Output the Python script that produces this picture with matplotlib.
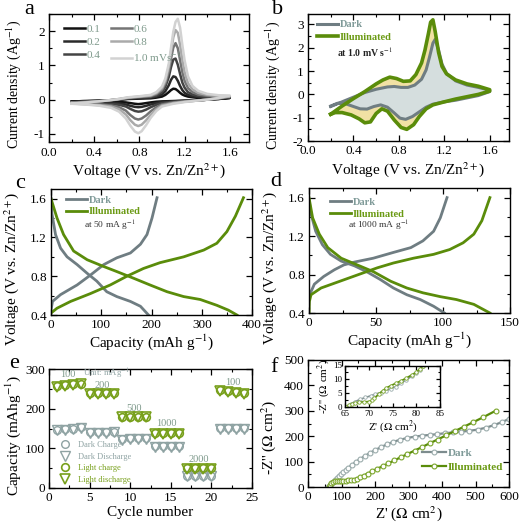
import matplotlib
matplotlib.use('Agg')
import matplotlib.pyplot as plt
from matplotlib.ticker import MultipleLocator

plt.rcParams['font.family'] = ['Liberation Serif', 'DejaVu Serif']
plt.rcParams['mathtext.fontset'] = 'stix'
plt.rcParams['axes.unicode_minus'] = False
plt.rcParams['axes.linewidth'] = 1.0

# ---------------- data ----------------
# (a) CV at different scan rates
scan_rates = ['0.1', '0.2', '0.4', '0.6', '0.8', '1.0 mVs$^{-1}$']
va_fwd = [0.20, 0.30, 0.40, 0.50, 0.60, 0.70, 0.80, 0.90, 0.95, 1.00, 1.03, 1.06, 1.08,
          1.10, 1.12, 1.14, 1.16, 1.18, 1.20, 1.23, 1.27, 1.32, 1.40, 1.50, 1.60]
ia_fwd = [
    [-0.06, -0.04, -0.03, -0.02, -0.01, 0.02, 0.03, 0.04, 0.06, 0.09, 0.14, 0.22, 0.28,
     0.32, 0.31, 0.26, 0.20, 0.15, 0.12, 0.09, 0.07, 0.05, 0.04, 0.04, 0.05],
    [-0.07, -0.05, -0.04, -0.03, -0.01, 0.03, 0.05, 0.06, 0.09, 0.15, 0.25, 0.42, 0.58,
     0.68, 0.66, 0.55, 0.40, 0.28, 0.20, 0.14, 0.10, 0.08, 0.06, 0.05, 0.06],
    [-0.08, -0.06, -0.05, -0.03, 0.00, 0.04, 0.06, 0.08, 0.12, 0.22, 0.38, 0.66, 0.95,
     1.17, 1.20, 1.02, 0.75, 0.50, 0.35, 0.22, 0.15, 0.11, 0.08, 0.07, 0.07],
    [-0.09, -0.07, -0.05, -0.03, 0.00, 0.05, 0.08, 0.10, 0.16, 0.28, 0.48, 0.82, 1.20,
     1.52, 1.65, 1.50, 1.15, 0.80, 0.55, 0.34, 0.22, 0.15, 0.11, 0.09, 0.09],
    [-0.10, -0.08, -0.06, -0.03, 0.01, 0.06, 0.09, 0.12, 0.19, 0.33, 0.55, 0.95, 1.40,
     1.82, 2.03, 1.95, 1.60, 1.15, 0.80, 0.48, 0.30, 0.20, 0.14, 0.11, 0.10],
    [-0.12, -0.09, -0.06, -0.03, 0.01, 0.07, 0.10, 0.14, 0.22, 0.38, 0.62, 1.05, 1.52,
     1.98, 2.27, 2.36, 2.10, 1.60, 1.15, 0.68, 0.40, 0.26, 0.17, 0.13, 0.12],
]
va_rev = [1.60, 1.50, 1.40, 1.30, 1.20, 1.10, 1.00, 0.95, 0.90, 0.86, 0.82, 0.79, 0.76,
          0.72, 0.68, 0.62, 0.55, 0.45, 0.35, 0.25, 0.20]
ia_rev = [
    [0.05, 0.02, 0.00, -0.02, -0.03, -0.04, -0.05, -0.06, -0.08, -0.10, -0.12, -0.13, -0.12,
     -0.10, -0.08, -0.07, -0.07, -0.07, -0.07, -0.07, -0.06],
    [0.06, 0.02, 0.00, -0.02, -0.03, -0.05, -0.07, -0.10, -0.14, -0.18, -0.21, -0.22, -0.21,
     -0.18, -0.14, -0.11, -0.10, -0.09, -0.09, -0.08, -0.07],
    [0.07, 0.03, 0.00, -0.02, -0.04, -0.06, -0.10, -0.15, -0.22, -0.29, -0.34, -0.35, -0.33,
     -0.27, -0.20, -0.15, -0.13, -0.11, -0.10, -0.09, -0.08],
    [0.09, 0.04, 0.00, -0.03, -0.05, -0.08, -0.14, -0.22, -0.34, -0.46, -0.55, -0.58, -0.55,
     -0.45, -0.32, -0.22, -0.17, -0.14, -0.12, -0.11, -0.09],
    [0.10, 0.04, 0.00, -0.03, -0.06, -0.10, -0.17, -0.28, -0.44, -0.60, -0.73, -0.77, -0.73,
     -0.60, -0.43, -0.28, -0.20, -0.16, -0.14, -0.12, -0.10],
    [0.12, 0.05, 0.00, -0.03, -0.07, -0.12, -0.20, -0.33, -0.53, -0.74, -0.92, -0.98, -0.93,
     -0.76, -0.55, -0.35, -0.24, -0.18, -0.15, -0.13, -0.12],
]
cv_colors = ['#111111', '#2a2a2a', '#444444', '#757575', '#aaaaaa', '#d2d2d2']

# (b) CV dark vs illuminated at 1.0 mV/s (closed loops)
vb_dark = [0.20, 0.30, 0.40, 0.50, 0.60, 0.70, 0.76, 0.82, 0.88, 0.94, 1.00, 1.04, 1.07, 1.10,
           1.12, 1.15, 1.18, 1.22, 1.30, 1.40, 1.50, 1.60,
           1.60, 1.50, 1.40, 1.30, 1.20, 1.10, 1.04, 0.98, 0.92, 0.86, 0.81, 0.76, 0.70,
           0.64, 0.58, 0.52, 0.46, 0.40, 0.33, 0.26, 0.20]
ib_dark = [-0.52, -0.32, -0.12, 0.08, 0.22, 0.32, 0.34, 0.30, 0.30, 0.40, 0.65, 1.05, 1.60, 2.20,
           2.36, 1.90, 1.30, 0.90, 0.58, 0.40, 0.30, 0.18,
           0.12, -0.05, -0.15, -0.25, -0.32, -0.42, -0.55, -0.75, -0.95, -1.07, -1.02, -0.80, -0.55,
           -0.45, -0.52, -0.63, -0.62, -0.52, -0.40, -0.38, -0.50]
vb_ill = [0.20, 0.30, 0.40, 0.50, 0.60, 0.66, 0.72, 0.78, 0.84, 0.90, 0.95, 1.00, 1.03, 1.06,
          1.08, 1.10, 1.12, 1.15, 1.18, 1.22, 1.30, 1.40, 1.50, 1.60,
          1.60, 1.50, 1.40, 1.30, 1.20, 1.10, 1.04, 0.98, 0.93, 0.87, 0.82, 0.76, 0.70,
          0.65, 0.60, 0.55, 0.50, 0.45, 0.38, 0.30, 0.24, 0.20]
ib_ill = [-0.85, -0.50, -0.18, 0.12, 0.45, 0.62, 0.74, 0.68, 0.56, 0.58, 0.85, 1.35, 1.90, 2.60,
          3.10, 3.20, 2.70, 1.80, 1.20, 0.88, 0.62, 0.45, 0.35, 0.20,
          0.14, 0.00, -0.10, -0.20, -0.32, -0.45, -0.62, -0.95, -1.30, -1.50, -1.42, -1.10, -0.72,
          -0.62, -0.82, -1.18, -1.22, -1.05, -0.88, -0.78, -0.78, -0.85]

# (c) charge/discharge at 50 mA/g
c_dark_ch_cap = [0, 3, 19, 52, 78, 105, 131, 158, 178, 191, 201, 211]
c_dark_ch_v = [0.45, 0.54, 0.61, 0.71, 0.81, 0.92, 0.99, 1.04, 1.13, 1.23, 1.40, 1.61]
c_dark_dis_cap = [0, 2, 9, 19, 32, 52, 72, 91, 111, 131, 158, 178, 194]
c_dark_dis_v = [1.60, 1.44, 1.23, 1.09, 1.00, 0.92, 0.83, 0.75, 0.64, 0.59, 0.54, 0.49, 0.40]
c_ill_ch_cap = [0, 12, 39, 78, 118, 151, 184, 217, 264, 304, 330, 350, 367, 383]
c_ill_ch_v = [0.42, 0.47, 0.54, 0.62, 0.71, 0.80, 0.88, 0.94, 1.00, 1.07, 1.14, 1.26, 1.42, 1.61]
c_ill_dis_cap = [0, 12, 25, 45, 72, 105, 130, 164, 197, 231, 264, 297, 330, 353, 370]
c_ill_dis_v = [1.60, 1.40, 1.23, 1.06, 0.97, 0.90, 0.85, 0.78, 0.71, 0.64, 0.59, 0.56, 0.50, 0.45, 0.40]

# (d) charge/discharge at 1000 mA/g
d_dark_ch_cap = [0, 0.5, 4, 11, 19, 26, 34, 48, 63, 76, 85, 93, 98, 103]
d_dark_ch_v = [0.55, 0.59, 0.70, 0.78, 0.85, 0.90, 0.93, 0.97, 1.03, 1.08, 1.15, 1.25, 1.39, 1.60]
d_dark_dis_cap = [0, 1.5, 5, 10, 16, 24, 34, 43, 53, 63, 73, 83, 93, 101]
d_dark_dis_v = [1.58, 1.43, 1.25, 1.11, 1.01, 0.94, 0.89, 0.83, 0.75, 0.66, 0.59, 0.54, 0.47, 0.40]
d_ill_ch_cap = [0, 0.3, 1.5, 9, 19, 31, 41, 51, 63, 78, 93, 105, 115, 123, 129, 135]
d_ill_ch_v = [0.40, 0.52, 0.59, 0.66, 0.71, 0.77, 0.82, 0.87, 0.92, 0.97, 1.01, 1.06, 1.13, 1.22, 1.36, 1.60]
d_ill_dis_cap = [0, 2.7, 7.7, 14, 24, 36, 48, 61, 73, 85, 98, 110, 123, 135]
d_ill_dis_v = [1.60, 1.39, 1.22, 1.08, 0.97, 0.90, 0.83, 0.73, 0.66, 0.61, 0.57, 0.54, 0.49, 0.40]

# (e) rate performance
cycles = list(range(1, 25))
dark_charge = [147, 149, 150, 153, 140, 141, 141, 142, 124, 125, 125, 126,
               106, 106, 106, 106, 31, 31, 31, 31, 152, 152, 151, 151]
dark_discharge = [145, 147, 148, 151, 138, 139, 139, 140, 122, 123, 123, 124,
                  104, 104, 104, 104, 29, 29, 29, 29, 150, 150, 149, 149]
light_charge = [256, 259, 261, 263, 240, 240, 240, 240, 180, 180, 180, 180,
                138, 138, 138, 138, 51, 51, 51, 51, 247, 245, 242, 239]
light_discharge = [254, 257, 259, 261, 238, 238, 238, 238, 178, 178, 178, 178,
                   136, 136, 136, 136, 48, 48, 48, 48, 244, 242, 239, 236]
rate_labels = ['100', '200', '500', '1000', '2000', '100']
rate_label_x = [2.3, 6.5, 10.5, 14.5, 18.5, 22.6]
rate_label_y = [285, 259, 200, 162, 72, 265]

# (f) Nyquist
z_dark = [60, 65, 70, 75, 80, 86, 92, 98, 105, 112, 120, 130, 142, 155, 170, 185, 200, 218,
          236, 255, 275, 296, 318, 340, 363, 386, 410, 434, 458, 482, 506, 530, 554, 578, 600]
zz_dark = [0, 6, 12, 19, 26, 34, 42, 50, 58, 66, 75, 86, 98, 110, 122, 134, 145, 157,
           168, 178, 186, 193, 198, 202, 205, 208, 212, 215, 218, 221, 226, 233, 243, 255, 268]
z_ill = [62, 66, 70, 75, 80, 86, 92, 98, 105, 112, 120, 128, 136, 145, 155, 166, 178, 192, 207,
         223, 240, 258, 277, 297, 318, 340, 363, 387, 412, 438, 465, 493, 522, 560]
zz_ill = [0, 8, 15, 20, 23, 25, 25, 25, 25, 25, 26, 27, 29, 33, 38, 45, 53, 62, 72,
          82, 93, 105, 117, 130, 143, 157, 172, 187, 203, 220, 237, 255, 274, 300]
zin_dark = [65.3, 66.2, 67.1, 68.2, 69.3, 70.4, 71.4, 72.5, 73.6, 74.6, 75.7, 76.8, 77.9,
            79.0, 80.0, 80.8, 81.5]
zzin_dark = [0.0, 0.9, 1.8, 2.6, 3.3, 3.9, 4.5, 5.1, 5.7, 6.5, 7.3, 8.5, 9.8, 11.0, 12.2, 13.5, 15.0]
zin_ill = [65.3, 65.8, 66.4, 67.1, 67.9, 68.9, 70.0, 70.6, 71.2, 72.1, 72.9, 73.6, 74.6, 75.7,
           76.8, 77.9, 79.0, 80.0, 80.8, 81.5]
zzin_ill = [0.0, 0.5, 0.9, 1.2, 1.5, 1.7, 1.8, 2.2, 3.0, 4.5, 5.7, 6.7, 7.6, 8.5, 9.4, 10.4,
            11.5, 12.6, 13.8, 15.0]

DARK = '#6f7d82'
GREEN = '#5a8c0a'
DARK_TXT = '#7f9a98'
GREEN_TXT = '#6b9a14'

W, H = 520, 525
fig = plt.figure(figsize=(5.2, 5.25), dpi=100)


def ax_px(l, t, r, b):
    return fig.add_axes([l / W, 1 - b / H, (r - l) / W, (b - t) / H])


def style(ax, xmaj, xmin, ymaj, ymin, ls=9.5):
    ax.xaxis.set_major_locator(MultipleLocator(xmaj))
    ax.xaxis.set_minor_locator(MultipleLocator(xmin))
    ax.yaxis.set_major_locator(MultipleLocator(ymaj))
    ax.yaxis.set_minor_locator(MultipleLocator(ymin))
    ax.tick_params(which='both', direction='in', top=True, right=True, labelsize=ls, pad=3)
    ax.tick_params(which='major', length=4, width=0.9)
    ax.tick_params(which='minor', length=2.2, width=0.8)


LAB = 11

# ---------- a ----------
ax = ax_px(49, 14, 249, 142.5)
for k in range(len(scan_rates)):
    ax.plot(va_fwd + va_rev, ia_fwd[k] + ia_rev[k], color=cv_colors[k], lw=1.8,
            label=scan_rates[k])
ax.set_xlim(0, 1.77)
ax.set_ylim(-1.25, 2.5)
style(ax, 0.4, 0.2, 1, 0.5)
ax.set_xlabel('Voltage (V vs. Zn/Zn$^{2+}$)', fontsize=LAB, labelpad=2)
ax.set_ylabel('Current density (Ag$^{-1}$)', fontsize=10)
ax.yaxis.set_label_coords(-0.13, 0.45)
ax.legend(ncol=2, loc='upper left', bbox_to_anchor=(0.025, 1.0), frameon=False, fontsize=8,
          handlelength=1.9, handletextpad=0.15, columnspacing=0.9, labelspacing=0.3,
          labelcolor='#7f9a8c')

# ---------- b ----------
ax = ax_px(308, 14, 509, 141)
ax.fill(vb_ill, ib_ill, color='#f1e1a4', lw=0)
ax.fill(vb_dark, ib_dark, color='#d5dede', lw=0)
ax.plot(vb_dark, ib_dark, color=DARK, lw=2.2, label='Dark')
ax.plot(vb_ill, ib_ill, color=GREEN, lw=2.6, label='Illuminated')
ax.set_xlim(0, 1.77)
ax.set_ylim(-2, 3.45)
style(ax, 0.4, 0.2, 1, 0.5)
ax.set_xlabel('Voltage (V vs. Zn/Zn$^{2+}$)', fontsize=LAB, labelpad=2)
ax.set_ylabel('Current density (Ag$^{-1}$)', fontsize=10)
ax.yaxis.set_label_coords(-0.13, 0.44)
ax.legend(loc='upper left', bbox_to_anchor=(0.0, 1.025), frameon=False,
          prop={'size': 7.5, 'weight': 'bold'}, handlelength=2.0, handletextpad=0.15,
          labelspacing=0.3, labelcolor=[DARK_TXT, GREEN_TXT])
ax.text(0.145, 0.70, 'at 1.0 mV s$^{-1}$', transform=ax.transAxes, fontsize=7,
        fontweight='bold', color='#222222', va='center')

# ---------- c ----------
ax = ax_px(51, 189, 252, 315)
ax.plot(c_dark_ch_cap, c_dark_ch_v, color=DARK, lw=2.0, label='Dark')
ax.plot(c_dark_dis_cap, c_dark_dis_v, color=DARK, lw=2.0)
ax.plot(c_ill_ch_cap, c_ill_ch_v, color=GREEN, lw=2.0, label='Illuminated')
ax.plot(c_ill_dis_cap, c_ill_dis_v, color=GREEN, lw=2.0)
ax.set_xlim(0, 400)
ax.set_ylim(0.4, 1.7)
style(ax, 100, 50, 0.4, 0.2)
ax.set_xlabel('Capacity (mAh g$^{-1}$)', fontsize=LAB, labelpad=1)
ax.set_ylabel('Voltage (V vs. Zn/Zn$^{2+}$)', fontsize=LAB)
ax.yaxis.set_label_coords(-0.15, 0.37)
ax.legend(loc='upper left', bbox_to_anchor=(0.03, 1.025), frameon=False,
          prop={'size': 7.5, 'weight': 'bold'}, handlelength=2.0, handletextpad=0.15,
          labelspacing=0.25, labelcolor=[DARK_TXT, GREEN_TXT])
ax.text(0.165, 0.71, 'at 50 mA g$^{-1}$', transform=ax.transAxes, fontsize=6.8,
        color='#333333', va='center')

# ---------- d ----------
ax = ax_px(309, 188, 510, 313)
ax.plot(d_dark_ch_cap, d_dark_ch_v, color=DARK, lw=2.0, label='Dark')
ax.plot(d_dark_dis_cap, d_dark_dis_v, color=DARK, lw=2.0)
ax.plot(d_ill_ch_cap, d_ill_ch_v, color=GREEN, lw=2.0, label='Illuminated')
ax.plot(d_ill_dis_cap, d_ill_dis_v, color=GREEN, lw=2.0)
ax.set_xlim(0, 150)
ax.set_ylim(0.4, 1.7)
style(ax, 50, 25, 0.4, 0.2)
ax.set_xlabel('Capacity (mAh g$^{-1}$)', fontsize=LAB, labelpad=1)
ax.set_ylabel('Voltage (V vs. Zn/Zn$^{2+}$)', fontsize=LAB)
ax.yaxis.set_label_coords(-0.15, 0.36)
ax.legend(loc='upper left', bbox_to_anchor=(0.06, 1.0), frameon=False,
          prop={'size': 7.5, 'weight': 'bold'}, handlelength=2.0, handletextpad=0.15,
          labelspacing=0.25, labelcolor=[DARK_TXT, GREEN_TXT])
ax.text(0.195, 0.695, 'at 1000 mA g$^{-1}$', transform=ax.transAxes, fontsize=6.8,
        color='#333333', va='center')

# ---------- e ----------
ax = ax_px(49, 369, 252, 488)
EG = '#8fa3a3'
EGR = '#78a01c'
ax.plot(cycles, dark_charge, 'o', ms=5.5, mfc='none', mec=EG, mew=1.0, label='Dark Charge')
ax.plot(cycles, dark_discharge, 'v', ms=6.5, mfc='none', mec=EG, mew=1.0, label='Dark Discharge')
ax.plot(cycles, light_charge, 'o', ms=5.5, mfc='none', mec=EGR, mew=1.2, label='Light charge')
ax.plot(cycles, light_discharge, 'v', ms=6.5, mfc='none', mec=EGR, mew=1.2, label='Light discharge')
for t, x, y in zip(rate_labels, rate_label_x, rate_label_y):
    ax.text(x, y, t, fontsize=7.5, color='#7f9a8c', ha='center', va='center')
ax.text(4.2, 287, 'Unit: mAg$^{-1}$', fontsize=6.3, color='#8fa3a3', ha='left', va='center')
ax.set_xlim(0, 25)
ax.set_ylim(0, 300)
style(ax, 5, 2.5, 100, 50)
ax.set_xlabel('Cycle number', fontsize=LAB, labelpad=1)
ax.set_ylabel('Capacity (mAhg$^{-1}$)', fontsize=LAB, labelpad=2)
ax.yaxis.set_label_coords(-0.13, 0.44)
ax.legend(loc='lower left', bbox_to_anchor=(0.0, -0.03), frameon=False, fontsize=6,
          handletextpad=0.6, labelspacing=0.45, markerscale=1.0,
          labelcolor=[EG, EG, EGR, EGR])

# ---------- f ----------
ax = ax_px(308, 360, 509, 487)
ax.plot(z_dark, zz_dark, '-o', color='#7d8c8e', lw=1.6, ms=3.5, mfc='white',
        mec='#9aabab', mew=0.8, label='Dark')
ax.plot(z_ill, zz_ill, '-o', color=GREEN, lw=1.6, ms=3.5, mfc='white',
        mec='#7aa52a', mew=0.8, label='Illuminated')
ax.set_xlim(0, 600)
ax.set_ylim(0, 500)
style(ax, 100, 50, 100, 50)
ax.set_xlabel("Z' ($\\Omega$ cm$^{2}$)", fontsize=LAB, labelpad=1)
ax.set_ylabel("-Z'' ($\\Omega$ cm$^{2}$)", fontsize=LAB)
ax.yaxis.set_label_coords(-0.15, 0.39)
ax.legend(loc='lower right', bbox_to_anchor=(1.02, 0.04), frameon=False,
          prop={'size': 8, 'weight': 'bold'}, handlelength=2.2, handletextpad=0.15,
          labelspacing=0.4, labelcolor=[DARK_TXT, GREEN_TXT])

axi = ax_px(345, 365.5, 440, 406.5)
axi.plot(zin_dark, zzin_dark, '-o', color='#7d8c8e', lw=1.2, ms=2.5, mfc='white',
         mec='#9aabab', mew=0.6)
axi.plot(zin_ill, zzin_ill, '-o', color=GREEN, lw=1.2, ms=2.5, mfc='white',
         mec='#7aa52a', mew=0.6)
axi.set_xlim(65, 85)
axi.set_ylim(0, 15)
style(axi, 5, 2.5, 5, 2.5, ls=6.5)
axi.tick_params(which='major', length=3)
axi.tick_params(which='minor', length=1.8)
axi.tick_params(axis='x', which='both', pad=2.5)
axi.tick_params(axis='y', which='both', pad=2)
axi.set_xlabel("Z' ($\\Omega$ cm$^{2}$)", fontsize=8, labelpad=0)
axi.set_ylabel("-Z'' ($\\Omega$ cm$^{2}$)", fontsize=8, labelpad=1)

# panel letters
for s, x, y in [('a', 29, 10), ('b', 278, 10), ('c', 20, 184), ('d', 276, 182),
                ('e', 14, 364), ('f', 274, 368)]:
    fig.text(x / W, 1 - y / H, s, fontsize=16, ha='center', va='center')

fig.savefig('out.png', dpi=100)
